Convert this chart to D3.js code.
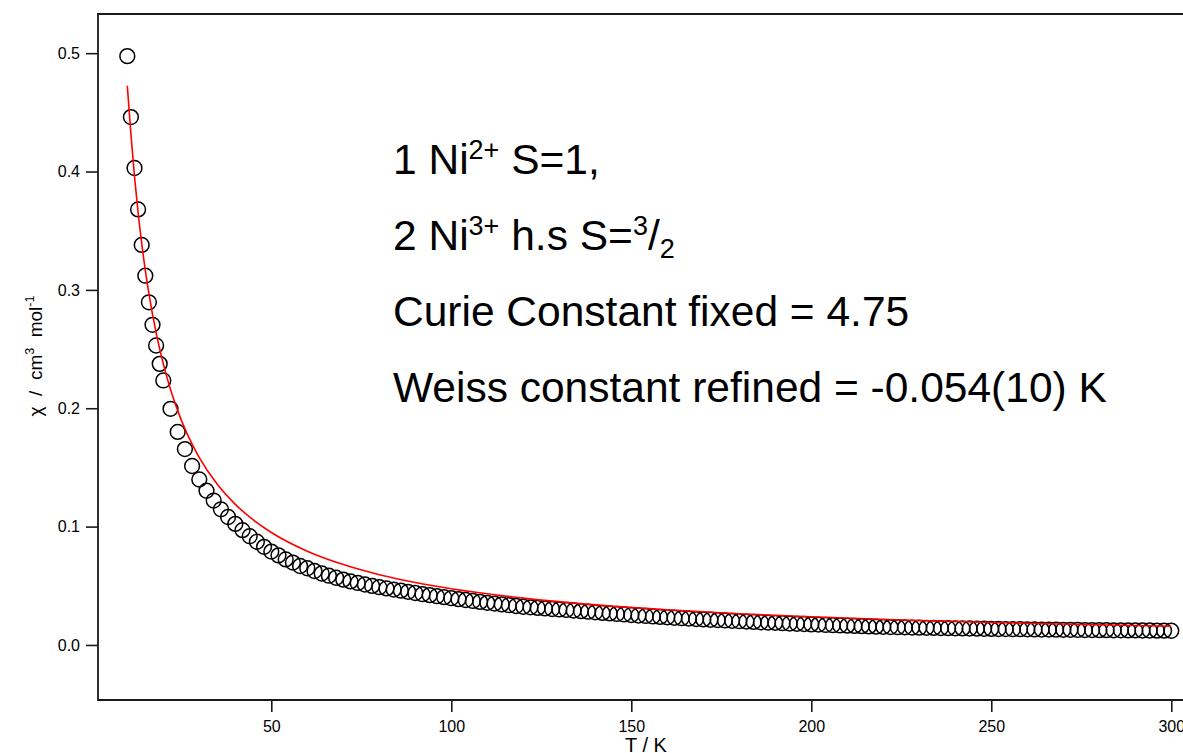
<!DOCTYPE html>
<html><head><meta charset="utf-8">
<script src="https://cdn.jsdelivr.net/npm/d3@7"></script>
<style>
body{margin:0;background:#fff}
svg{display:block}
text{font-family:"Liberation Sans",Arial,Helvetica,sans-serif;fill:#000}
</style>
</head><body>
<svg id="chart" width="1183" height="753"></svg>
<script>
// ---- data ----
const temperature = [10,11,12,13,14,15,16,17,18,19,20,
  22,24,26,28,30,32,34,36,38,40,42,44,46,48,50,52,54,56,58,60,
  62,64,66,68,70,72,74,76,78,80,82,84,86,88,90,92,94,96,98,100,
  102,104,106,108,110,112,114,116,118,120,122,124,126,128,130,
  132,134,136,138,140,142,144,146,148,150,152,154,156,158,160,
  162,164,166,168,170,172,174,176,178,180,182,184,186,188,190,
  192,194,196,198,200,202,204,206,208,210,212,214,216,218,220,
  222,224,226,228,230,232,234,236,238,240,242,244,246,248,250,
  252,254,256,258,260,262,264,266,268,270,272,274,276,278,280,
  282,284,286,288,290,292,294,296,298,300];
const chi = [0.4975,0.4460,0.4030,0.3680,0.3380,0.3120,0.2895,0.2705,0.2530,0.2375,0.2235,
  0.1995,0.1800,0.1655,0.1512,0.1398,0.1303,0.1220,0.1146,0.1081,0.1023,0.0970,0.0919,0.0872,0.0829,0.0789,0.0757,0.0723,0.0696,0.0667,0.0648,
  0.0625,0.0604,0.0585,0.0568,0.0552,0.0537,0.0524,0.0511,0.0499,0.0488,0.0478,0.0468,0.0459,0.0449,0.0439,0.0429,0.0421,0.0412,0.0404,0.0395,
  0.0387,0.0380,0.0372,0.0364,0.0356,0.0350,0.0343,0.0336,0.0329,0.0323,0.0318,0.0313,0.0309,0.0304,0.0300,
  0.0296,0.0291,0.0286,0.0281,0.0276,0.0271,0.0267,0.0262,0.0258,0.0253,0.0249,0.0245,0.0241,0.0237,0.0234,
  0.0230,0.0226,0.0223,0.0219,0.0216,0.0213,0.0210,0.0207,0.0204,0.0201,0.0198,0.0195,0.0192,0.0189,0.0187,
  0.0184,0.0181,0.0179,0.0177,0.0174,0.0172,0.0169,0.0167,0.0165,0.0163,0.0161,0.0159,0.0157,0.0155,0.0153,
  0.0151,0.0150,0.0149,0.0147,0.0146,0.0145,0.0144,0.0143,0.0142,0.0141,0.0140,0.0139,0.0138,0.0137,0.0136,
  0.0135,0.0134,0.0133,0.0133,0.0132,0.0131,0.0130,0.0130,0.0129,0.0128,0.0128,0.0127,0.0126,0.0126,0.0125,
  0.0125,0.0124,0.0124,0.0123,0.0123,0.0122,0.0122,0.0121,0.0121,0.0120];
const fitT = [10,11,12,13,14,15,16,18,20,22,25,28,30,35,40,45,50,60,70,80,90,100,120,140,160,180,200,225,250,275,300];
const fitChi = [0.4725,0.4318,0.3958,0.3654,0.3393,0.3167,0.2969,0.2639,0.2375,0.2159,0.1900,0.1696,0.1583,0.1357,0.1188,0.1056,0.0950,0.0792,0.0679,0.0594,0.0528,0.0475,0.0396,0.0339,0.0297,0.0264,0.0238,0.0211,0.0190,0.0173,0.0158];
const xTicks = [50,100,150,200,250,300];
const yTicks = [0.0,0.1,0.2,0.3,0.4,0.5];
const yTickLabels = ["0.0","0.1","0.2","0.3","0.4","0.5"];
const xDomain = [1.86, 305.2];
const yDomain = [-0.0465, 0.5331];
const xTitle = "T / K";
const yTitle = [{t:"\u03C7\u00A0\u00A0/\u00A0\u00A0cm"},{t:"3",k:"sup"},{t:"\u00A0\u00A0mol"},{t:"-1",k:"sup"}];
const annotation = [
  [{t:"1 Ni"},{t:"2+",k:"sup"},{t:" S=1,"}],
  [{t:"2 Ni"},{t:"3+",k:"sup"},{t:" h.s S="},{t:"3",k:"sup"},{t:"/"},{t:"2",k:"sub"}],
  [{t:"Curie Constant fixed = 4.75"}],
  [{t:"Weiss constant refined = -0.054(10) K"}]
];

// ---- layout ----
const L = 98, T = 14, B = 700, R = 1190;
const svg = d3.select("#chart");

const x = d3.scaleLinear().domain(xDomain).range([L, R]);
const y = d3.scaleLinear().domain(yDomain).range([B, T]);

// frame
svg.append("path")
  .attr("d", `M${R+5},${T}H${L}V${B}H${R+5}`)
  .attr("fill","none").attr("stroke","#1a1a1a").attr("stroke-width",1.8);

// axes
const xAxis = d3.axisBottom(x).tickValues(xTicks).tickSize(12).tickPadding(9).tickFormat(d3.format("d"));
const gx = svg.append("g").attr("transform",`translate(0,${B})`).call(xAxis);
gx.select(".domain").remove();
gx.selectAll(".tick line").attr("stroke","#1a1a1a").attr("stroke-width",1.6);
gx.selectAll(".tick text").attr("font-size",16).attr("font-family","Liberation Sans, Arial, sans-serif").attr("fill","#000");

const yAxis = d3.axisLeft(y).tickValues(yTicks).tickSize(12).tickPadding(6).tickFormat((d,i)=>yTickLabels[i]);
const gy = svg.append("g").attr("transform",`translate(${L},0)`).call(yAxis);
gy.select(".domain").remove();
gy.selectAll(".tick line").attr("stroke","#1a1a1a").attr("stroke-width",1.6);
gy.selectAll(".tick text").attr("font-size",16).attr("font-family","Liberation Sans, Arial, sans-serif").attr("fill","#000");

// data circles
const pts = temperature.map((t,i)=>({t, c: chi[i]}));
svg.append("g").selectAll("circle").data(pts).join("circle")
  .attr("cx", d=>x(d.t)).attr("cy", d=>y(d.c)).attr("r", 7.4)
  .attr("fill","none").attr("stroke","#000").attr("stroke-width",1.5);

// fit line
const fitPts = fitT.map((t,i)=>({t, c: fitChi[i]}));
svg.append("path").datum(fitPts)
  .attr("d", d3.line().x(d=>x(d.t)).y(d=>y(d.c)).curve(d3.curveMonotoneX))
  .attr("fill","none").attr("stroke","#ff0000").attr("stroke-width",1.6);

// rich text helper
function rich(sel, segs, fs, supFs, supDy, subDy){
  let cur = 0;
  segs.forEach(s => {
    let target = 0, f = fs;
    if (s.k === "sup") { target = supDy; f = supFs; }
    if (s.k === "sub") { target = subDy; f = supFs; }
    sel.append("tspan").attr("font-size", f).attr("dy", target - cur).text(s.t);
    cur = target;
  });
}

// axis titles
svg.append("text").attr("x", 646).attr("y", 752).attr("text-anchor","middle")
  .attr("font-size",20).text(xTitle);

const yl = svg.append("text").attr("transform","translate(42,356) rotate(-90)")
  .attr("text-anchor","middle").attr("font-size",19);
rich(yl, yTitle, 19, 12.5, -8.5, 0);

// annotation
const baseY = [174, 250, 326, 402];
annotation.forEach((segs, li) => {
  const tx = svg.append("text").attr("x", 393).attr("y", baseY[li]).attr("font-size", 42.5);
  rich(tx, segs, 42.5, 27, -15, 8);
});
</script>
</body></html>
